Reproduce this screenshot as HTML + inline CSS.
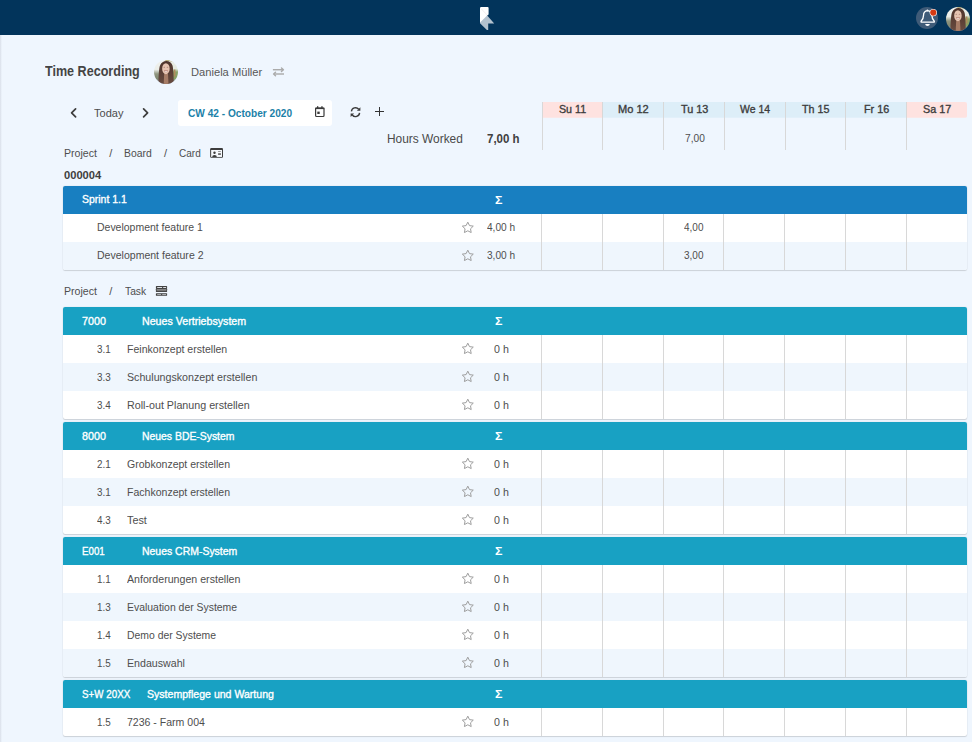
<!DOCTYPE html>
<html lang="en"><head><meta charset="utf-8"><title>Time Recording</title>
<style>
html,body{margin:0;padding:0}
body{width:972px;height:742px;overflow:hidden;position:relative;background:#eff6fe;font-family:"Liberation Sans", sans-serif;font-size:11px;color:#4e4e4e}
.t{position:absolute;white-space:pre;line-height:normal;transform-origin:0 0;font-size:11px}
</style></head><body>
<div style="position:absolute;left:0;top:0;width:972px;height:35px;background:#02345b"></div>
<div style="position:absolute;left:0;top:35px;width:2px;height:707px;background:linear-gradient(90deg,#d9dfe9,#eff6fe)"></div>
<svg style="position:absolute;left:476px;top:4px" width="24" height="30" viewBox="476 4 24 30">
<path d="M487.2 15.4 L494.2 23.4 L488.2 23.4 L488.2 30 L486.9 30 L480 23.2 L480 21 L486 15 Z" fill="#b3c2cf"/>
<path d="M480 8.2 Q480 7 481.2 7 L487.6 7 Q488.6 7 488.6 8 L488.6 14.6 L487.2 15.6 L480 22.6 Z" fill="#ffffff"/>
<path d="M481 8.6 L487.4 15.2" stroke="#e6dcdc" stroke-width="0.5" fill="none"/>
</svg>
<svg style="position:absolute;left:914px;top:5px" width="28" height="28" viewBox="914 5 28 28">
<circle cx="927" cy="18" r="11" fill="#3f5b78"/>
<path d="M927.5 10.7 c-2.6 0.3 -4 2.3 -4 4.9 c0 3 -1 4.3 -2.4 5.6 l0 0.9 l13.2 0 l0 -0.9 c-1.4 -1.3 -2.4 -2.6 -2.4 -5.6 c0 -2.6 -1.5 -4.6 -4.4 -4.9 z" fill="none" stroke="#ffffff" stroke-width="1.35" stroke-linejoin="round"/>
<path d="M925.1 24.1 h4.8 q-0.3 1.9 -2.4 1.9 q-2.1 0 -2.4 -1.9 z" fill="#ffffff"/>
<rect x="926.6" y="9.5" width="1.6" height="1.8" rx="0.6" fill="#ffffff"/>
<circle cx="933.3" cy="12.6" r="3.7" fill="#ffffff"/>
<circle cx="933.3" cy="12.6" r="3.1" fill="#d63a12"/>
</svg>
<svg style="position:absolute;left:946px;top:7px" width="24" height="24" viewBox="0 0 24 24">
<defs><clipPath id="av1"><circle cx="12" cy="12" r="12"/></clipPath>
<linearGradient id="av1l" x1="0" y1="0" x2="0" y2="1"><stop offset="0" stop-color="#f1f2ef"/><stop offset=".42" stop-color="#eceee9"/><stop offset=".56" stop-color="#8f9680"/><stop offset=".72" stop-color="#7f8670"/><stop offset=".8" stop-color="#9aa4b8"/><stop offset="1" stop-color="#9aa4b8"/></linearGradient>
<linearGradient id="av1r" x1="0" y1="0" x2="0" y2="1"><stop offset="0" stop-color="#b5a86a"/><stop offset=".2" stop-color="#e9ece4"/><stop offset=".4" stop-color="#e4e9de"/><stop offset=".5" stop-color="#8aa468"/><stop offset=".7" stop-color="#86a064"/><stop offset=".8" stop-color="#8f9bb2"/><stop offset="1" stop-color="#8f9bb2"/></linearGradient>
<linearGradient id="av1h" x1="0" y1="0" x2="0" y2="1"><stop offset="0" stop-color="#4e342b"/><stop offset=".5" stop-color="#5c4036"/><stop offset="1" stop-color="#6b4e42"/></linearGradient>
</defs>
<g clip-path="url(#av1)"><g>
<rect x="-4" y="-4" width="16" height="32" fill="url(#av1l)"/>
<rect x="12" y="-4" width="16" height="32" fill="url(#av1r)"/>
<path d="M11 -3 L27 -3 L27 9 C24 3.5 19 0.6 11 0.4 Z" fill="#a3934f"/>
<rect x="19.8" y="9.5" width="1.6" height="7" fill="#b08a5c"/>
<path d="M4.3 26 C4.6 17 4.8 9 6 5.6 C7.2 2.4 9.6 0.9 12.3 0.9 C15.4 0.9 17.7 2.6 18.6 5.8 C19.5 10 19.6 18 20 26 Z" fill="url(#av1h)"/>
<path d="M10.2 13.4 L14 13.4 L14.6 26 L9.6 26Z" fill="#a67c66"/>
<ellipse cx="11.9" cy="8.7" rx="3.75" ry="5.5" fill="#e6c3b0"/>
<ellipse cx="10.3" cy="7.2" rx="0.9" ry="0.4" fill="#94695a"/>
<ellipse cx="13.5" cy="7.2" rx="0.9" ry="0.4" fill="#94695a"/>
<ellipse cx="12" cy="11.1" rx="2.2" ry="1.1" fill="#bd8677"/>
<ellipse cx="12" cy="11.2" rx="1.6" ry="0.55" fill="#f3e9e4"/>
</g></g></svg>
<svg style="position:absolute;left:154px;top:60px" width="24" height="24" viewBox="0 0 24 24">
<defs><clipPath id="av2"><circle cx="12" cy="12" r="12"/></clipPath>
<linearGradient id="av2l" x1="0" y1="0" x2="0" y2="1"><stop offset="0" stop-color="#f1f2ef"/><stop offset=".42" stop-color="#eceee9"/><stop offset=".56" stop-color="#8f9680"/><stop offset=".72" stop-color="#7f8670"/><stop offset=".8" stop-color="#9aa4b8"/><stop offset="1" stop-color="#9aa4b8"/></linearGradient>
<linearGradient id="av2r" x1="0" y1="0" x2="0" y2="1"><stop offset="0" stop-color="#b5a86a"/><stop offset=".2" stop-color="#e9ece4"/><stop offset=".4" stop-color="#e4e9de"/><stop offset=".5" stop-color="#8aa468"/><stop offset=".7" stop-color="#86a064"/><stop offset=".8" stop-color="#8f9bb2"/><stop offset="1" stop-color="#8f9bb2"/></linearGradient>
<linearGradient id="av2h" x1="0" y1="0" x2="0" y2="1"><stop offset="0" stop-color="#4e342b"/><stop offset=".5" stop-color="#5c4036"/><stop offset="1" stop-color="#6b4e42"/></linearGradient>
</defs>
<g clip-path="url(#av2)"><g>
<rect x="-4" y="-4" width="16" height="32" fill="url(#av2l)"/>
<rect x="12" y="-4" width="16" height="32" fill="url(#av2r)"/>
<path d="M11 -3 L27 -3 L27 9 C24 3.5 19 0.6 11 0.4 Z" fill="#a3934f"/>
<rect x="19.8" y="9.5" width="1.6" height="7" fill="#b08a5c"/>
<path d="M4.3 26 C4.6 17 4.8 9 6 5.6 C7.2 2.4 9.6 0.9 12.3 0.9 C15.4 0.9 17.7 2.6 18.6 5.8 C19.5 10 19.6 18 20 26 Z" fill="url(#av2h)"/>
<path d="M10.2 13.4 L14 13.4 L14.6 26 L9.6 26Z" fill="#a67c66"/>
<ellipse cx="11.9" cy="8.7" rx="3.75" ry="5.5" fill="#e6c3b0"/>
<ellipse cx="10.3" cy="7.2" rx="0.9" ry="0.4" fill="#94695a"/>
<ellipse cx="13.5" cy="7.2" rx="0.9" ry="0.4" fill="#94695a"/>
<ellipse cx="12" cy="11.1" rx="2.2" ry="1.1" fill="#bd8677"/>
<ellipse cx="12" cy="11.2" rx="1.6" ry="0.55" fill="#f3e9e4"/>
</g></g></svg>
<svg style="position:absolute;left:271px;top:65px" width="15" height="13" viewBox="271 65 15 13">
<g fill="none" stroke="#ababab" stroke-width="1.45" stroke-linejoin="round">
<path d="M272.9 69.7 H283"/><path d="M281.5 68 L283.4 69.7 L281.5 71.4" stroke-linecap="round"/>
<path d="M284 74 H274"/><path d="M275.5 72.3 L273.6 74 L275.5 75.7" stroke-linecap="round"/>
</g></svg>
<svg style="position:absolute;left:68px;top:106px" width="12" height="14" viewBox="68 106 12 14">
<path d="M75.6 108.9 L71.6 112.9 L75.6 116.9" fill="none" stroke="#3d3d3d" stroke-width="1.7" stroke-linecap="round" stroke-linejoin="round"/></svg>
<svg style="position:absolute;left:140px;top:106px" width="12" height="14" viewBox="140 106 12 14">
<path d="M143.6 108.9 L147.6 112.9 L143.6 116.9" fill="none" stroke="#3d3d3d" stroke-width="1.7" stroke-linecap="round" stroke-linejoin="round"/></svg>
<div style="position:absolute;left:178px;top:100px;width:154px;height:25.5px;background:#fff;border-radius:3px"></div>
<svg style="position:absolute;left:313px;top:105px" width="14" height="14" viewBox="313 105 14 14">
<rect x="315.6" y="108.1" width="8.4" height="8.4" rx="0.9" fill="none" stroke="#3a3a3a" stroke-width="1.2"/>
<rect x="315.2" y="107.6" width="9.2" height="1.5" fill="#3a3a3a"/>
<rect x="317" y="106.2" width="1.3" height="2.2" fill="#3a3a3a"/>
<rect x="321.3" y="106.2" width="1.3" height="2.2" fill="#3a3a3a"/>
<rect x="317.3" y="111.6" width="2.4" height="2.4" fill="#3a3a3a"/>
</svg>
<svg style="position:absolute;left:349px;top:106px" width="14" height="13" viewBox="349 106 14 13">
<g fill="none" stroke="#3a3a3a" stroke-width="1.4">
<path d="M351.4 111.4 A4.1 4.1 0 0 1 358.7 109.3"/>
<path d="M359.6 112.9 A4.1 4.1 0 0 1 352.3 115"/>
</g>
<path d="M360.4 107.3 L360.4 110.8 L356.9 110.8 Z" fill="#3a3a3a"/>
<path d="M350.6 117 L350.6 113.5 L354.1 113.5 Z" fill="#3a3a3a"/>
</svg>
<div style="position:absolute;left:375.1px;top:110.85px;width:9.3px;height:1.3px;background:#333"></div>
<div style="position:absolute;left:379.1px;top:106.9px;width:1.3px;height:9.2px;background:#333"></div>
<div style="position:absolute;left:542px;top:102px;width:60px;height:16px;background:linear-gradient(#fee2e0 15px,#fbe7e7 15px);"></div>
<div style="position:absolute;left:542px;top:102px;width:1px;height:48px;background:#d8d8d8"></div>
<div style="position:absolute;left:602px;top:102px;width:61px;height:16px;background:linear-gradient(#ddeef8 15px,#e2f0fa 15px);"></div>
<div style="position:absolute;left:602px;top:102px;width:1px;height:48px;background:#d8d8d8"></div>
<div style="position:absolute;left:663px;top:102px;width:61px;height:16px;background:linear-gradient(#ddeef8 15px,#e2f0fa 15px);"></div>
<div style="position:absolute;left:663px;top:102px;width:1px;height:48px;background:#d8d8d8"></div>
<div style="position:absolute;left:724px;top:102px;width:61px;height:16px;background:linear-gradient(#ddeef8 15px,#e2f0fa 15px);"></div>
<div style="position:absolute;left:724px;top:102px;width:1px;height:48px;background:#d8d8d8"></div>
<div style="position:absolute;left:785px;top:102px;width:60px;height:16px;background:linear-gradient(#ddeef8 15px,#e2f0fa 15px);"></div>
<div style="position:absolute;left:785px;top:102px;width:1px;height:48px;background:#d8d8d8"></div>
<div style="position:absolute;left:845px;top:102px;width:61px;height:16px;background:linear-gradient(#ddeef8 15px,#e2f0fa 15px);"></div>
<div style="position:absolute;left:845px;top:102px;width:1px;height:48px;background:#d8d8d8"></div>
<div style="position:absolute;left:906px;top:102px;width:61px;height:16px;background:linear-gradient(#fee2e0 15px,#fbe7e7 15px);border-radius:0 2px 2px 0;"></div>
<div style="position:absolute;left:906px;top:102px;width:1px;height:48px;background:#d8d8d8"></div>
<svg style="position:absolute;left:209px;top:147px" width="15" height="12" viewBox="209 147 15 12">
<rect x="210.15" y="148.1" width="12.85" height="9.75" rx="1.1" fill="#3d3d3d"/>
<rect x="211.15" y="150" width="10.85" height="6.95" fill="#f6f9fd"/>
<circle cx="214.5" cy="152.8" r="1.2" fill="#3d3d3d"/>
<path d="M212.2 157 q0 -2.1 2.3 -2.1 q2.3 0 2.3 2.1z" fill="#3d3d3d"/>
<rect x="218.1" y="151" width="2.7" height="0.9" fill="#8a8a8a"/>
<rect x="218.1" y="153.3" width="2.8" height="1.5" fill="#4a4a4a"/>
</svg>
<svg style="position:absolute;left:155px;top:285px" width="13" height="12" viewBox="155 285 13 12">
<rect x="155.9" y="286.05" width="11.2" height="2.85" rx="0.6" fill="#424242"/>
<rect x="155.9" y="288.7" width="11.2" height="3.3" rx="0.6" fill="#474747"/>
<rect x="156.7" y="289.1" width="9.6" height="1.6" fill="#8b8b8b"/>
<rect x="155.9" y="293.2" width="11.2" height="2.65" rx="0.6" fill="#424242"/>
<rect x="157.2" y="287.15" width="4.9" height="0.85" fill="#f6f9fd"/><rect x="163.2" y="287.15" width="2.9" height="0.85" fill="#f6f9fd"/>
<rect x="157.2" y="294.15" width="3.9" height="0.8" fill="#c2c6ca"/><rect x="162.2" y="294.15" width="3.9" height="0.8" fill="#c2c6ca"/>
</svg>
<div style="position:absolute;left:63px;top:186px;width:904px;height:84px;background:#fff;border-radius:2px;overflow:hidden;box-shadow:0 1px 1px rgba(0,0,0,.13),0 0 1.5px rgba(0,0,0,.13)"><div style="position:absolute;left:0;top:0;width:904px;height:28px;background:#187fc1"></div><div style="position:absolute;left:0;top:56px;width:904px;height:28px;background:#eff6fd"></div><div style="position:absolute;left:478px;top:28px;width:1px;height:56px;background:#d8d8d8"></div><div style="position:absolute;left:539px;top:28px;width:1px;height:56px;background:#d8d8d8"></div><div style="position:absolute;left:600px;top:28px;width:1px;height:56px;background:#d8d8d8"></div><div style="position:absolute;left:660px;top:28px;width:1px;height:56px;background:#d8d8d8"></div><div style="position:absolute;left:721px;top:28px;width:1px;height:56px;background:#d8d8d8"></div><div style="position:absolute;left:782px;top:28px;width:1px;height:56px;background:#d8d8d8"></div><div style="position:absolute;left:843px;top:28px;width:1px;height:56px;background:#d8d8d8"></div></div>
<svg style="position:absolute;left:460.7px;top:220.58px" width="13.6" height="12.6" viewBox="0 0 14 13"><path d="M7 1.2 L8.75 4.75 L12.65 5.3 L9.8 8.05 L10.5 11.95 L7 10.1 L3.5 11.95 L4.2 8.05 L1.35 5.3 L5.25 4.75 Z" fill="none" stroke="#9b9b9b" stroke-width="1" stroke-linejoin="round"/></svg>
<svg style="position:absolute;left:460.7px;top:248.58px" width="13.6" height="12.6" viewBox="0 0 14 13"><path d="M7 1.2 L8.75 4.75 L12.65 5.3 L9.8 8.05 L10.5 11.95 L7 10.1 L3.5 11.95 L4.2 8.05 L1.35 5.3 L5.25 4.75 Z" fill="none" stroke="#9b9b9b" stroke-width="1" stroke-linejoin="round"/></svg>
<div style="position:absolute;left:63px;top:307px;width:904px;height:112px;background:#fff;border-radius:2px;overflow:hidden;box-shadow:0 1px 1px rgba(0,0,0,.13),0 0 1.5px rgba(0,0,0,.13)"><div style="position:absolute;left:0;top:0;width:904px;height:28px;background:#18a1c3"></div><div style="position:absolute;left:0;top:56px;width:904px;height:28px;background:#eff6fd"></div><div style="position:absolute;left:478px;top:28px;width:1px;height:84px;background:#d8d8d8"></div><div style="position:absolute;left:539px;top:28px;width:1px;height:84px;background:#d8d8d8"></div><div style="position:absolute;left:600px;top:28px;width:1px;height:84px;background:#d8d8d8"></div><div style="position:absolute;left:660px;top:28px;width:1px;height:84px;background:#d8d8d8"></div><div style="position:absolute;left:721px;top:28px;width:1px;height:84px;background:#d8d8d8"></div><div style="position:absolute;left:782px;top:28px;width:1px;height:84px;background:#d8d8d8"></div><div style="position:absolute;left:843px;top:28px;width:1px;height:84px;background:#d8d8d8"></div></div>
<svg style="position:absolute;left:460.7px;top:342.3px" width="13.6" height="12.6" viewBox="0 0 14 13"><path d="M7 1.2 L8.75 4.75 L12.65 5.3 L9.8 8.05 L10.5 11.95 L7 10.1 L3.5 11.95 L4.2 8.05 L1.35 5.3 L5.25 4.75 Z" fill="none" stroke="#9b9b9b" stroke-width="1" stroke-linejoin="round"/></svg>
<svg style="position:absolute;left:460.7px;top:370.3px" width="13.6" height="12.6" viewBox="0 0 14 13"><path d="M7 1.2 L8.75 4.75 L12.65 5.3 L9.8 8.05 L10.5 11.95 L7 10.1 L3.5 11.95 L4.2 8.05 L1.35 5.3 L5.25 4.75 Z" fill="none" stroke="#9b9b9b" stroke-width="1" stroke-linejoin="round"/></svg>
<svg style="position:absolute;left:460.7px;top:398.3px" width="13.6" height="12.6" viewBox="0 0 14 13"><path d="M7 1.2 L8.75 4.75 L12.65 5.3 L9.8 8.05 L10.5 11.95 L7 10.1 L3.5 11.95 L4.2 8.05 L1.35 5.3 L5.25 4.75 Z" fill="none" stroke="#9b9b9b" stroke-width="1" stroke-linejoin="round"/></svg>
<div style="position:absolute;left:63px;top:422px;width:904px;height:112px;background:#fff;border-radius:2px;overflow:hidden;box-shadow:0 1px 1px rgba(0,0,0,.13),0 0 1.5px rgba(0,0,0,.13)"><div style="position:absolute;left:0;top:0;width:904px;height:28px;background:#18a1c3"></div><div style="position:absolute;left:0;top:56px;width:904px;height:28px;background:#eff6fd"></div><div style="position:absolute;left:478px;top:28px;width:1px;height:84px;background:#d8d8d8"></div><div style="position:absolute;left:539px;top:28px;width:1px;height:84px;background:#d8d8d8"></div><div style="position:absolute;left:600px;top:28px;width:1px;height:84px;background:#d8d8d8"></div><div style="position:absolute;left:660px;top:28px;width:1px;height:84px;background:#d8d8d8"></div><div style="position:absolute;left:721px;top:28px;width:1px;height:84px;background:#d8d8d8"></div><div style="position:absolute;left:782px;top:28px;width:1px;height:84px;background:#d8d8d8"></div><div style="position:absolute;left:843px;top:28px;width:1px;height:84px;background:#d8d8d8"></div></div>
<svg style="position:absolute;left:460.7px;top:457.3px" width="13.6" height="12.6" viewBox="0 0 14 13"><path d="M7 1.2 L8.75 4.75 L12.65 5.3 L9.8 8.05 L10.5 11.95 L7 10.1 L3.5 11.95 L4.2 8.05 L1.35 5.3 L5.25 4.75 Z" fill="none" stroke="#9b9b9b" stroke-width="1" stroke-linejoin="round"/></svg>
<svg style="position:absolute;left:460.7px;top:485.3px" width="13.6" height="12.6" viewBox="0 0 14 13"><path d="M7 1.2 L8.75 4.75 L12.65 5.3 L9.8 8.05 L10.5 11.95 L7 10.1 L3.5 11.95 L4.2 8.05 L1.35 5.3 L5.25 4.75 Z" fill="none" stroke="#9b9b9b" stroke-width="1" stroke-linejoin="round"/></svg>
<svg style="position:absolute;left:460.7px;top:513.3px" width="13.6" height="12.6" viewBox="0 0 14 13"><path d="M7 1.2 L8.75 4.75 L12.65 5.3 L9.8 8.05 L10.5 11.95 L7 10.1 L3.5 11.95 L4.2 8.05 L1.35 5.3 L5.25 4.75 Z" fill="none" stroke="#9b9b9b" stroke-width="1" stroke-linejoin="round"/></svg>
<div style="position:absolute;left:63px;top:537px;width:904px;height:140px;background:#fff;border-radius:2px;overflow:hidden;box-shadow:0 1px 1px rgba(0,0,0,.13),0 0 1.5px rgba(0,0,0,.13)"><div style="position:absolute;left:0;top:0;width:904px;height:28px;background:#18a1c3"></div><div style="position:absolute;left:0;top:56px;width:904px;height:28px;background:#eff6fd"></div><div style="position:absolute;left:0;top:112px;width:904px;height:28px;background:#eff6fd"></div><div style="position:absolute;left:478px;top:28px;width:1px;height:112px;background:#d8d8d8"></div><div style="position:absolute;left:539px;top:28px;width:1px;height:112px;background:#d8d8d8"></div><div style="position:absolute;left:600px;top:28px;width:1px;height:112px;background:#d8d8d8"></div><div style="position:absolute;left:660px;top:28px;width:1px;height:112px;background:#d8d8d8"></div><div style="position:absolute;left:721px;top:28px;width:1px;height:112px;background:#d8d8d8"></div><div style="position:absolute;left:782px;top:28px;width:1px;height:112px;background:#d8d8d8"></div><div style="position:absolute;left:843px;top:28px;width:1px;height:112px;background:#d8d8d8"></div></div>
<svg style="position:absolute;left:460.7px;top:572.3px" width="13.6" height="12.6" viewBox="0 0 14 13"><path d="M7 1.2 L8.75 4.75 L12.65 5.3 L9.8 8.05 L10.5 11.95 L7 10.1 L3.5 11.95 L4.2 8.05 L1.35 5.3 L5.25 4.75 Z" fill="none" stroke="#9b9b9b" stroke-width="1" stroke-linejoin="round"/></svg>
<svg style="position:absolute;left:460.7px;top:600.3px" width="13.6" height="12.6" viewBox="0 0 14 13"><path d="M7 1.2 L8.75 4.75 L12.65 5.3 L9.8 8.05 L10.5 11.95 L7 10.1 L3.5 11.95 L4.2 8.05 L1.35 5.3 L5.25 4.75 Z" fill="none" stroke="#9b9b9b" stroke-width="1" stroke-linejoin="round"/></svg>
<svg style="position:absolute;left:460.7px;top:628.3px" width="13.6" height="12.6" viewBox="0 0 14 13"><path d="M7 1.2 L8.75 4.75 L12.65 5.3 L9.8 8.05 L10.5 11.95 L7 10.1 L3.5 11.95 L4.2 8.05 L1.35 5.3 L5.25 4.75 Z" fill="none" stroke="#9b9b9b" stroke-width="1" stroke-linejoin="round"/></svg>
<svg style="position:absolute;left:460.7px;top:656.3px" width="13.6" height="12.6" viewBox="0 0 14 13"><path d="M7 1.2 L8.75 4.75 L12.65 5.3 L9.8 8.05 L10.5 11.95 L7 10.1 L3.5 11.95 L4.2 8.05 L1.35 5.3 L5.25 4.75 Z" fill="none" stroke="#9b9b9b" stroke-width="1" stroke-linejoin="round"/></svg>
<div style="position:absolute;left:63px;top:680px;width:904px;height:56px;background:#fff;border-radius:2px;overflow:hidden;box-shadow:0 1px 1px rgba(0,0,0,.13),0 0 1.5px rgba(0,0,0,.13)"><div style="position:absolute;left:0;top:0;width:904px;height:28px;background:#18a1c3"></div><div style="position:absolute;left:478px;top:28px;width:1px;height:28px;background:#d8d8d8"></div><div style="position:absolute;left:539px;top:28px;width:1px;height:28px;background:#d8d8d8"></div><div style="position:absolute;left:600px;top:28px;width:1px;height:28px;background:#d8d8d8"></div><div style="position:absolute;left:660px;top:28px;width:1px;height:28px;background:#d8d8d8"></div><div style="position:absolute;left:721px;top:28px;width:1px;height:28px;background:#d8d8d8"></div><div style="position:absolute;left:782px;top:28px;width:1px;height:28px;background:#d8d8d8"></div><div style="position:absolute;left:843px;top:28px;width:1px;height:28px;background:#d8d8d8"></div></div>
<svg style="position:absolute;left:460.7px;top:715.3px" width="13.6" height="12.6" viewBox="0 0 14 13"><path d="M7 1.2 L8.75 4.75 L12.65 5.3 L9.8 8.05 L10.5 11.95 L7 10.1 L3.5 11.95 L4.2 8.05 L1.35 5.3 L5.25 4.75 Z" fill="none" stroke="#9b9b9b" stroke-width="1" stroke-linejoin="round"/></svg>
<span class="t" style="left:44.90px;top:62.00px;font-size:15.2px;font-weight:700;color:#444444;transform:scaleX(0.8274)">Time Recording</span>
<span class="t" style="left:190.80px;top:65.90px;color:#585858;transform:scaleX(1.0135)">Daniela Müller</span>
<span class="t" style="left:94.10px;top:106.80px;color:#4d4d4d;transform:scaleX(1.0016)">Today</span>
<span class="t" style="left:187.50px;top:107.10px;font-weight:700;color:#1b81a8;transform:scaleX(0.9197)">CW 42 - October 2020</span>
<span class="t" style="left:558.90px;top:103.05px;-webkit-text-stroke:0.35px currentColor;color:#3c3c3c;transform:scaleX(0.9708)">Su 11</span>
<span class="t" style="left:618.10px;top:103.05px;-webkit-text-stroke:0.35px currentColor;color:#3c3c3c;transform:scaleX(1.0048)">Mo 12</span>
<span class="t" style="left:680.70px;top:103.05px;-webkit-text-stroke:0.35px currentColor;color:#3c3c3c;transform:scaleX(0.9890)">Tu 13</span>
<span class="t" style="left:739.90px;top:103.05px;-webkit-text-stroke:0.35px currentColor;color:#3c3c3c;transform:scaleX(0.9531)">We 14</span>
<span class="t" style="left:802.20px;top:103.05px;-webkit-text-stroke:0.35px currentColor;color:#3c3c3c;transform:scaleX(0.9746)">Th 15</span>
<span class="t" style="left:864.00px;top:103.05px;-webkit-text-stroke:0.35px currentColor;color:#3c3c3c;transform:scaleX(0.9822)">Fr 16</span>
<span class="t" style="left:923.10px;top:103.05px;-webkit-text-stroke:0.35px currentColor;color:#3c3c3c;transform:scaleX(0.9780)">Sa 17</span>
<span class="t" style="left:387.00px;top:132.00px;font-size:12px;color:#4a4a4a;transform:scaleX(0.9921)">Hours Worked</span>
<span class="t" style="left:486.60px;top:132.00px;font-size:12px;font-weight:700;color:#404040;transform:scaleX(0.9558)">7,00 h</span>
<span class="t" style="left:684.50px;top:132.20px;font-size:10.5px;transform:scaleX(0.9710)">7,00</span>
<span class="t" style="left:64.30px;top:147.10px;transform:scaleX(0.9626)">Project</span>
<span class="t" style="left:109.25px;top:147.10px;transform:scaleX(1.0000)">/</span>
<span class="t" style="left:124.00px;top:147.10px;transform:scaleX(0.9441)">Board</span>
<span class="t" style="left:164.10px;top:147.10px;transform:scaleX(1.0000)">/</span>
<span class="t" style="left:179.00px;top:147.10px;transform:scaleX(0.9104)">Card</span>
<span class="t" style="left:63.60px;top:169.10px;font-weight:700;color:#3f3f3f;transform:scaleX(1.0136)">000004</span>
<span class="t" style="left:64.30px;top:285.10px;transform:scaleX(0.9626)">Project</span>
<span class="t" style="left:109.25px;top:285.10px;transform:scaleX(1.0000)">/</span>
<span class="t" style="left:125.00px;top:285.10px;transform:scaleX(0.9343)">Task</span>
<span class="t" style="left:82.40px;top:193.10px;-webkit-text-stroke:0.35px currentColor;color:#fff;transform:scaleX(0.9496)">Sprint 1.1</span>
<span class="t" style="left:495.30px;top:193.95px;font-weight:700;color:#fff;transform:scaleX(1.1286)">Σ</span>
<span class="t" style="left:97.20px;top:221.15px;transform:scaleX(0.9517)">Development feature 1</span>
<span class="t" style="left:486.80px;top:221.15px;transform:scaleX(0.9191)">4,00 h</span>
<span class="t" style="left:683.84px;top:221.15px;font-size:10.5px;transform:scaleX(0.9516)">4,00</span>
<span class="t" style="left:97.20px;top:249.15px;transform:scaleX(0.9571)">Development feature 2</span>
<span class="t" style="left:486.80px;top:249.15px;transform:scaleX(0.9191)">3,00 h</span>
<span class="t" style="left:683.84px;top:249.15px;font-size:10.5px;transform:scaleX(0.9516)">3,00</span>
<span class="t" style="left:82.30px;top:315.00px;-webkit-text-stroke:0.35px currentColor;color:#fff;transform:scaleX(0.9773)">7000</span>
<span class="t" style="left:142.40px;top:315.00px;-webkit-text-stroke:0.35px currentColor;color:#fff;transform:scaleX(0.9680)">Neues Vertriebsystem</span>
<span class="t" style="left:495.30px;top:314.95px;font-weight:700;color:#fff;transform:scaleX(1.1286)">Σ</span>
<span class="t" style="left:97.20px;top:343.05px;transform:scaleX(0.8963)">3.1</span>
<span class="t" style="left:127.30px;top:343.05px;transform:scaleX(0.9584)">Feinkonzept erstellen</span>
<span class="t" style="left:493.60px;top:343.05px;transform:scaleX(0.9688)">0 h</span>
<span class="t" style="left:97.20px;top:371.05px;transform:scaleX(0.8963)">3.3</span>
<span class="t" style="left:127.30px;top:371.05px;transform:scaleX(0.9687)">Schulungskonzept erstellen</span>
<span class="t" style="left:493.60px;top:371.05px;transform:scaleX(0.9688)">0 h</span>
<span class="t" style="left:97.20px;top:399.05px;transform:scaleX(0.8963)">3.4</span>
<span class="t" style="left:127.30px;top:399.05px;transform:scaleX(0.9734)">Roll-out Planung erstellen</span>
<span class="t" style="left:493.60px;top:399.05px;transform:scaleX(0.9688)">0 h</span>
<span class="t" style="left:81.90px;top:430.00px;-webkit-text-stroke:0.35px currentColor;color:#fff;transform:scaleX(0.9773)">8000</span>
<span class="t" style="left:142.30px;top:430.00px;-webkit-text-stroke:0.35px currentColor;color:#fff;transform:scaleX(0.9453)">Neues BDE-System</span>
<span class="t" style="left:495.30px;top:429.95px;font-weight:700;color:#fff;transform:scaleX(1.1286)">Σ</span>
<span class="t" style="left:97.20px;top:458.05px;transform:scaleX(0.8963)">2.1</span>
<span class="t" style="left:127.30px;top:458.05px;transform:scaleX(0.9572)">Grobkonzept erstellen</span>
<span class="t" style="left:493.60px;top:458.05px;transform:scaleX(0.9688)">0 h</span>
<span class="t" style="left:97.20px;top:486.05px;transform:scaleX(0.8963)">3.1</span>
<span class="t" style="left:127.30px;top:486.05px;transform:scaleX(0.9572)">Fachkonzept erstellen</span>
<span class="t" style="left:493.60px;top:486.05px;transform:scaleX(0.9688)">0 h</span>
<span class="t" style="left:97.20px;top:514.05px;transform:scaleX(0.8963)">4.3</span>
<span class="t" style="left:127.30px;top:514.05px;transform:scaleX(0.9842)">Test</span>
<span class="t" style="left:493.60px;top:514.05px;transform:scaleX(0.9688)">0 h</span>
<span class="t" style="left:82.30px;top:545.00px;-webkit-text-stroke:0.35px currentColor;color:#fff;transform:scaleX(0.8838)">E001</span>
<span class="t" style="left:142.30px;top:545.00px;-webkit-text-stroke:0.35px currentColor;color:#fff;transform:scaleX(0.9503)">Neues CRM-System</span>
<span class="t" style="left:495.30px;top:544.95px;font-weight:700;color:#fff;transform:scaleX(1.1286)">Σ</span>
<span class="t" style="left:97.20px;top:573.05px;transform:scaleX(0.8963)">1.1</span>
<span class="t" style="left:127.10px;top:573.05px;transform:scaleX(0.9651)">Anforderungen erstellen</span>
<span class="t" style="left:493.60px;top:573.05px;transform:scaleX(0.9688)">0 h</span>
<span class="t" style="left:97.20px;top:601.05px;transform:scaleX(0.8963)">1.3</span>
<span class="t" style="left:127.10px;top:601.05px;transform:scaleX(0.9478)">Evaluation der Systeme</span>
<span class="t" style="left:493.60px;top:601.05px;transform:scaleX(0.9688)">0 h</span>
<span class="t" style="left:97.20px;top:629.05px;transform:scaleX(0.8963)">1.4</span>
<span class="t" style="left:127.10px;top:629.05px;transform:scaleX(0.9455)">Demo der Systeme</span>
<span class="t" style="left:493.60px;top:629.05px;transform:scaleX(0.9688)">0 h</span>
<span class="t" style="left:97.20px;top:657.05px;transform:scaleX(0.8963)">1.5</span>
<span class="t" style="left:127.10px;top:657.05px;transform:scaleX(0.9666)">Endauswahl</span>
<span class="t" style="left:493.60px;top:657.05px;transform:scaleX(0.9688)">0 h</span>
<span class="t" style="left:82.30px;top:688.00px;-webkit-text-stroke:0.35px currentColor;color:#fff;transform:scaleX(0.8910)">S+W 20XX</span>
<span class="t" style="left:146.60px;top:688.00px;-webkit-text-stroke:0.35px currentColor;color:#fff;transform:scaleX(0.9595)">Systempflege und Wartung</span>
<span class="t" style="left:495.30px;top:687.95px;font-weight:700;color:#fff;transform:scaleX(1.1286)">Σ</span>
<span class="t" style="left:97.20px;top:716.05px;transform:scaleX(0.8963)">1.5</span>
<span class="t" style="left:127.10px;top:716.05px;transform:scaleX(0.9581)">7236 - Farm 004</span>
<span class="t" style="left:493.60px;top:716.05px;transform:scaleX(0.9688)">0 h</span>
</body></html>
